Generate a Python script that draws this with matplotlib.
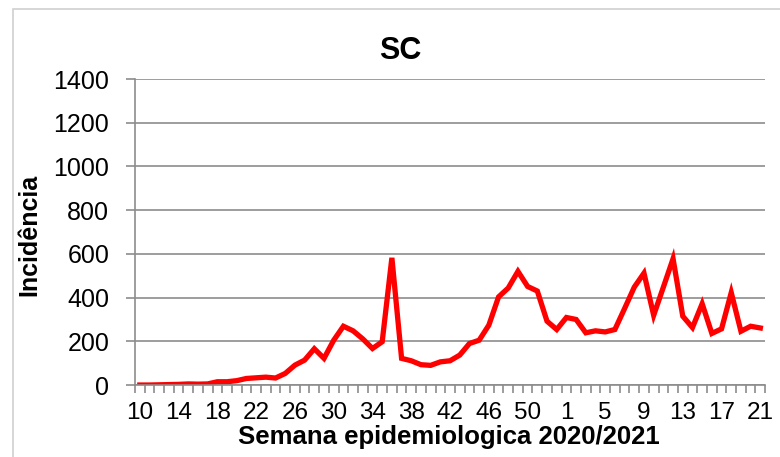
import matplotlib
matplotlib.use("Agg")
import matplotlib.pyplot as plt
from matplotlib.patches import Rectangle
import numpy as np

# Epidemiological weeks: 10-53 of 2020, then 1-21 of 2021
weeks = list(range(10, 54)) + list(range(1, 22))
incidence = [
    0, 0, 1, 2, 3, 5, 4, 5, 15, 15,
    20, 30, 33, 36, 32, 53, 91, 114, 166, 122,
    205, 269, 248, 211, 167, 198, 582, 122, 111, 93,
    90, 106, 111, 137, 190, 205, 274, 403, 444, 520,
    451, 430, 292, 254, 309, 300, 239, 248, 243, 254,
    350, 448, 512, 319, 448, 578, 315, 263, 372, 236,
    257, 423, 246, 269, 261,
]
y_ticks = [0, 200, 400, 600, 800, 1000, 1200, 1400]

plt.rcParams["font.family"] = ["Liberation Sans", "DejaVu Sans"]
grey = "#8c8c8c"

fig = plt.figure(figsize=(7.8, 4.57), dpi=100)
fig.patches.append(Rectangle((0.0167, -0.01), 1.0, 0.99, transform=fig.transFigure,
                             fill=False, edgecolor="#d0d0d0", linewidth=1.2))
ax = fig.add_axes([0.173, 0.1575, 0.808, 0.6695])

x = np.arange(len(weeks))
ax.plot(x, incidence, color="#ff0000", linewidth=3.8, solid_joinstyle="miter")

ax.set_xlim(-0.5, len(weeks) - 0.5)
ax.set_ylim(0, 1400)
ax.set_yticks(y_ticks)
ax.set_yticklabels([str(v) for v in y_ticks], fontsize=18)
ax.grid(axis="y", color=grey, linewidth=1.2)
ax.set_axisbelow(True)

ax.set_xticks(x[::4])
ax.set_xticklabels([str(weeks[i]) for i in range(0, len(weeks), 4)], fontsize=17.5)
ax.tick_params(axis="x", length=0, pad=12)
ax.set_xticks(np.arange(-0.5, len(weeks)), minor=True)
ax.tick_params(axis="x", which="minor", length=6, color=grey, width=1.2)
ax.tick_params(axis="y", length=6.5, color=grey, width=1.2, pad=12)

for side in ["top", "right"]:
    ax.spines[side].set_visible(False)
for side in ["left", "bottom"]:
    ax.spines[side].set_color(grey)
    ax.spines[side].set_linewidth(1.2)

ax.set_title("SC", fontsize=22, fontweight="bold", x=0.4206, y=1.065, va="baseline", pad=0)

ax.set_ylabel("Incidência", fontsize=18, fontweight="bold")
ax.yaxis.label.set(va="baseline", ha="center")
ax.yaxis.set_label_coords(-0.1556, 0.49)

ax.set_xlabel("Semana epidemiologica 2020/2021", fontsize=18.5, fontweight="bold")
ax.xaxis.label.set(va="baseline", ha="center")
ax.xaxis.set_label_coords(0.4976, -0.1935)

fig.savefig("out.png", dpi=100)
